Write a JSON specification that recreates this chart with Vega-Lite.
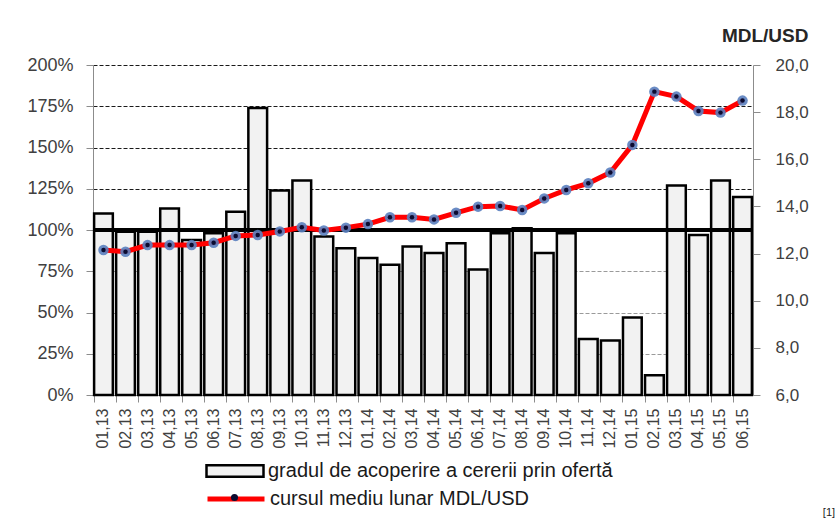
{
  "$schema": "https://vega.github.io/schema/vega-lite/v6.json",
  "width": 660,
  "height": 330,
  "autosize": {"type": "none"},
  "padding": {"left": 93, "top": 65, "right": 84, "bottom": 127},
  "background": "white",
  "config": {
    "view": {"stroke": null},
    "font": "Liberation Sans",
    "axis": {"labelFont": "Liberation Sans", "labelColor": "#404040", "labelFontSize": 18, "domainColor": "#8c8c8c", "tickColor": "#8c8c8c", "titleFont": "Liberation Sans"},
    "legend": {"labelFont": "Liberation Sans", "labelFontSize": 20, "labelColor": "#1a1a1a", "padding": 0, "offset": 0, "title": null, "labelLimit": 700}
  },
  "title": {"text": "[1]", "orient": "bottom", "anchor": "end", "fontSize": 11, "fontWeight": "normal", "color": "#222222", "dx": 27, "dy": -6},
  "data": {"values": [
    {"m": "01,13", "pct": 110, "rate": 12.15},
    {"m": "02,13", "pct": 99, "rate": 12.08},
    {"m": "03,13", "pct": 99, "rate": 12.36},
    {"m": "04,13", "pct": 113, "rate": 12.36},
    {"m": "05,13", "pct": 94, "rate": 12.36},
    {"m": "06,13", "pct": 98, "rate": 12.46},
    {"m": "07,13", "pct": 111, "rate": 12.75},
    {"m": "08,13", "pct": 174, "rate": 12.79},
    {"m": "09,13", "pct": 124, "rate": 12.94},
    {"m": "10,13", "pct": 130, "rate": 13.12},
    {"m": "11,13", "pct": 96, "rate": 12.98},
    {"m": "12,13", "pct": 89, "rate": 13.1},
    {"m": "01,14", "pct": 83, "rate": 13.25},
    {"m": "02,14", "pct": 79, "rate": 13.54},
    {"m": "03,14", "pct": 90, "rate": 13.54},
    {"m": "04,14", "pct": 86, "rate": 13.45},
    {"m": "05,14", "pct": 92, "rate": 13.73},
    {"m": "06,14", "pct": 76, "rate": 13.99},
    {"m": "07,14", "pct": 98, "rate": 14.02},
    {"m": "08,14", "pct": 101, "rate": 13.85},
    {"m": "09,14", "pct": 86, "rate": 14.34},
    {"m": "10,14", "pct": 98, "rate": 14.7},
    {"m": "11,14", "pct": 34, "rate": 14.98},
    {"m": "12,14", "pct": 33, "rate": 15.44},
    {"m": "01,15", "pct": 47, "rate": 16.61},
    {"m": "02,15", "pct": 12, "rate": 18.87},
    {"m": "03,15", "pct": 127, "rate": 18.66},
    {"m": "04,15", "pct": 97, "rate": 18.05},
    {"m": "05,15", "pct": 130, "rate": 17.98},
    {"m": "06,15", "pct": 120, "rate": 18.49}
  ]},
  "layer": [
    {
      "layer": [
        {
          "mark": {"type": "bar", "stroke": "black", "strokeWidth": 2.5},
          "encoding": {
            "x": {"field": "m", "type": "ordinal", "sort": null, "scale": {"paddingInner": 0.15, "paddingOuter": 0.05},
              "axis": {"title": null, "labelAngle": -90, "bandPosition": 0, "labelDy": 11, "labelPadding": 6, "labelFontSize": 16, "tickSize": 7, "domainColor": "#8c8c8c", "labelOverlap": false}},
            "y": {"field": "pct", "type": "quantitative", "scale": {"domain": [0, 200]},
              "axis": {"title": null, "values": [0, 25, 50, 75, 100, 125, 150, 175, 200], "labelExpr": "datum.value + '%'", "grid": true, "gridDash": [4, 2],
                "gridColor": {"condition": {"test": "datum.value > 100", "value": "#1a1a1a"}, "value": "#9a9a9a"},
                "gridOpacity": {"condition": {"test": "datum.value == 0", "value": 0}, "value": 1},
                "tickSize": 7, "labelPadding": 13}},
            "fill": {"datum": "gradul de acoperire a cererii prin ofertă", "scale": {"range": ["#f2f2f2"]},
              "legend": {"orient": "none", "legendX": 112, "legendY": 376, "symbolType": "M-1,-0.2H1V0.2H-1Z", "symbolSize": 3249, "symbolStrokeColor": "black", "symbolStrokeWidth": 2.5, "symbolFillColor": "#f2f2f2", "labelOffset": 3, "title": null}}
          }
        },
        {
          "mark": {"type": "rule", "color": "black", "strokeWidth": 3},
          "encoding": {"y": {"datum": 100, "type": "quantitative"}}
        }
      ]
    },
    {
      "layer": [
        {
          "mark": {"type": "line", "strokeWidth": 5, "interpolate": "linear"},
          "encoding": {
            "x": {"field": "m", "type": "ordinal", "sort": null},
            "y": {"field": "rate", "type": "quantitative", "scale": {"domain": [6, 20], "zero": false},
              "axis": {"orient": "right", "values": [6, 8, 10, 12, 14, 16, 18, 20], "labelExpr": "replace(format(datum.value, '.1f'), '.', ',')", "grid": false, "tickSize": 7, "labelPadding": 15, "labelFontSize": 17,
                "title": "MDL/USD", "titleAngle": 0, "titleX": 55, "titleY": -30, "titleAlign": "right", "titleBaseline": "middle", "titleFontSize": 19, "titleFontWeight": "bold", "titleColor": "#262626"}},
            "stroke": {"datum": "cursul mediu lunar MDL/USD", "scale": {"range": ["#ff0000"]},
              "legend": {"orient": "none", "legendX": 112, "legendY": 403, "symbolType": "stroke", "symbolSize": 3249, "symbolStrokeWidth": 5, "labelOffset": 3, "title": null}}
          }
        },
        {
          "mark": {"type": "point", "filled": true, "color": "#5a7fbf", "opacity": 0.9, "size": 110},
          "encoding": {
            "x": {"field": "m", "type": "ordinal", "sort": null},
            "y": {"field": "rate", "type": "quantitative"}
          }
        },
        {
          "mark": {"type": "point", "filled": true, "color": "#0b0b30", "opacity": 1, "size": 20},
          "encoding": {
            "x": {"field": "m", "type": "ordinal", "sort": null},
            "y": {"field": "rate", "type": "quantitative"},
            "shape": {"datum": "dot", "scale": {"range": ["circle"]},
              "legend": {"orient": "none", "legendX": 137, "legendY": 428, "labelExpr": "''", "symbolSize": 50, "symbolFillColor": "#0b0b30", "symbolStrokeColor": "#0b0b30", "zindex": 2, "labelFontSize": 7, "title": null}}
          }
        }
      ]
    }
  ],
  "resolve": {"scale": {"y": "independent"}}
}
